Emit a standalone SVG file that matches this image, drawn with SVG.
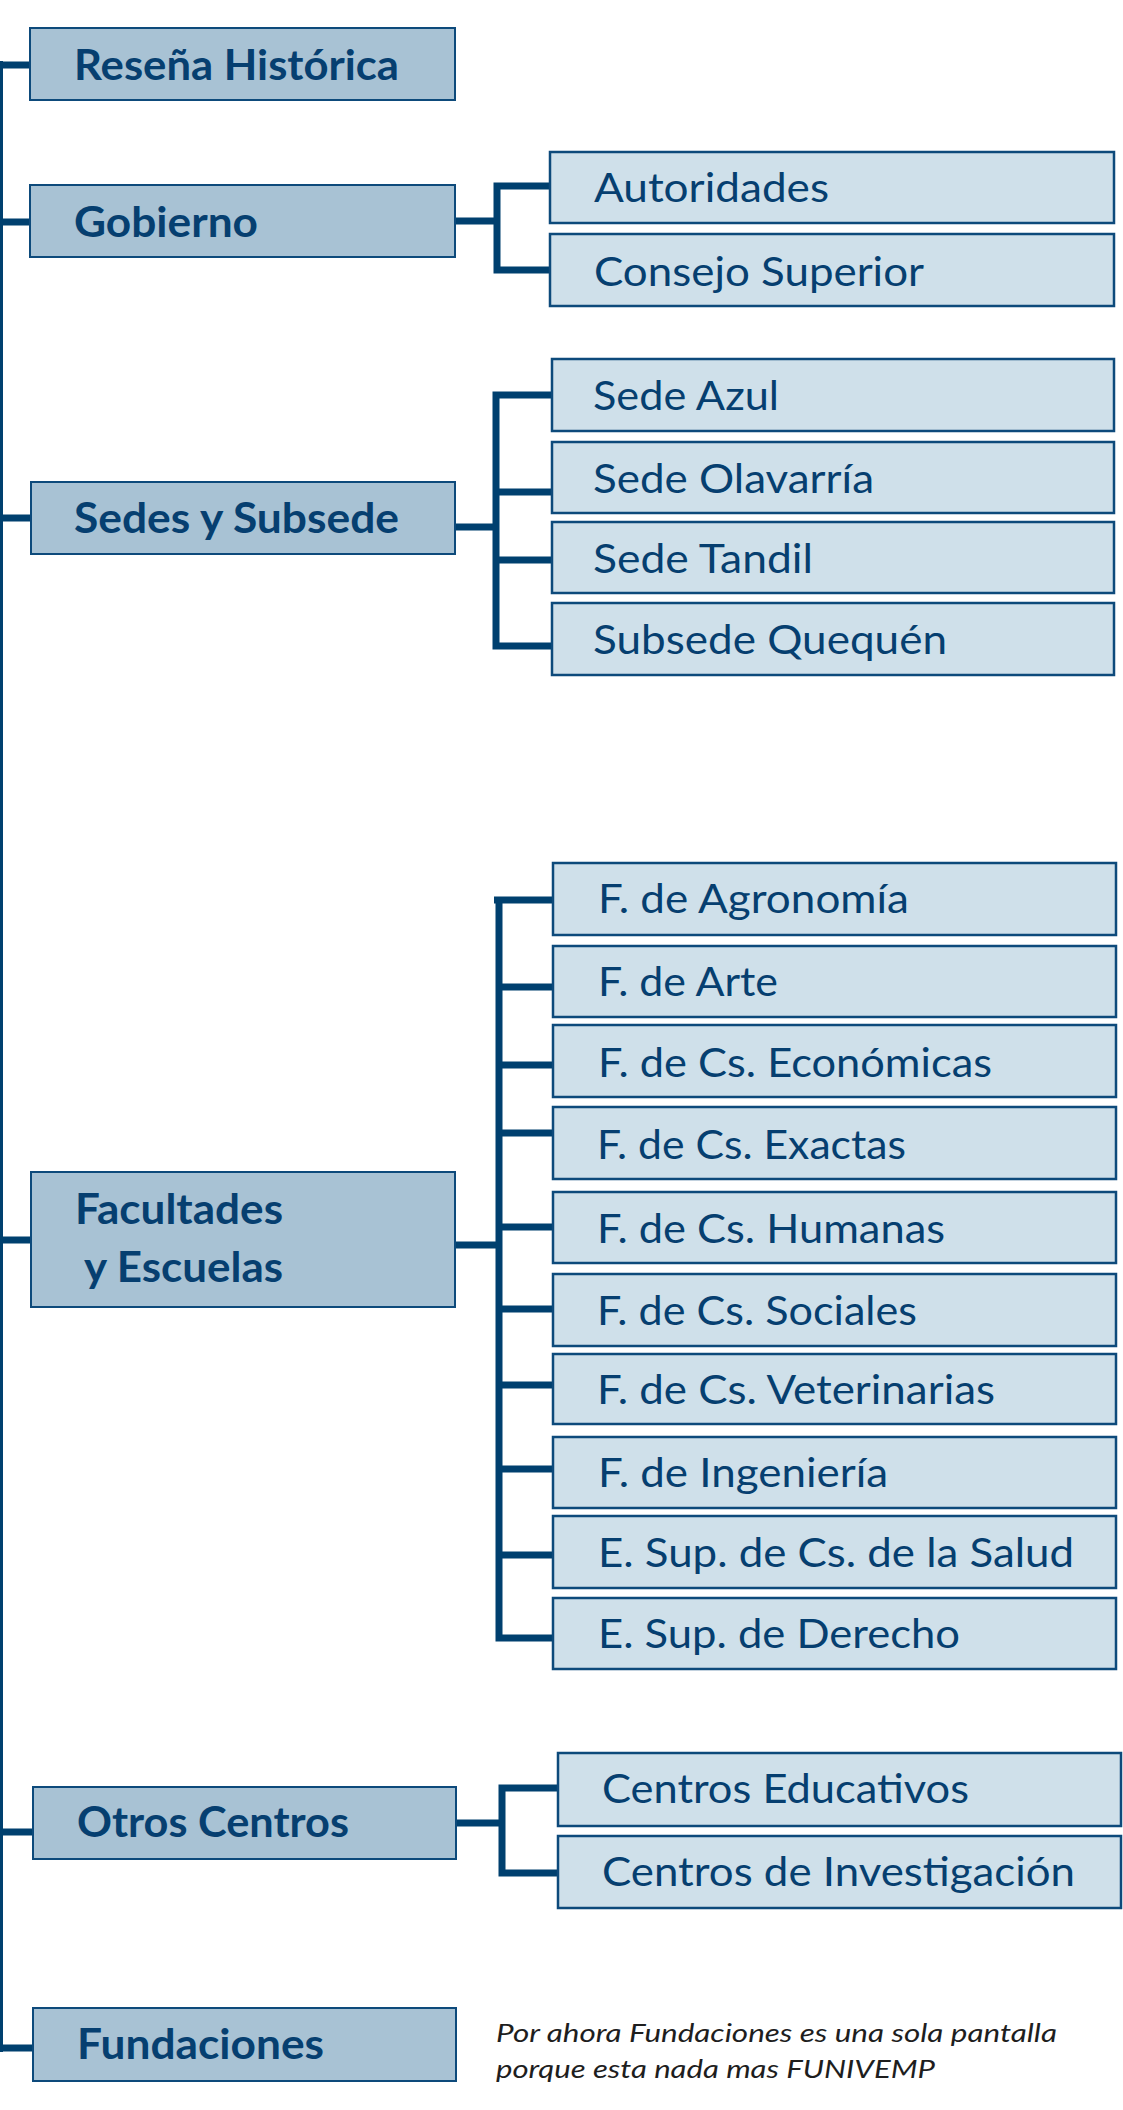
<svg xmlns="http://www.w3.org/2000/svg" width="1123" height="2110" viewBox="0 0 1123 2110">
<style>
.l1{fill:#a8c2d4;stroke:#0d4a7b;stroke-width:2}
.l2{fill:#cfe0ea;stroke:#0d4a7b;stroke-width:2.5}
.t1{font-family:Lato,'Open Sans',sans-serif;font-weight:bold;font-size:42px;fill:#063f70}
.t2{font-family:Lato,'Open Sans',sans-serif;font-weight:normal;font-size:41px;fill:#063f70}
.note{font-family:Lato,'Open Sans',sans-serif;font-style:italic;font-size:25px;fill:#1e1e1e}
.c{stroke:#00406f;stroke-width:7;fill:none;stroke-linecap:butt}
.trunk{stroke:#00406f;stroke-width:3;fill:none}
</style>
<rect width="1123" height="2110" fill="#ffffff"/>
<g id="connectors">
<path class="trunk" d="M1.5 61 V2052"/>
<path class="c" d="M0 65 H30 M0 222 H30 M0 518 H31 M0 1240 H31 M0 1832 H33 M0 2048 H33"/>
<path class="c" d="M455 221 H497 M497 182.5 V273.5 M493.5 186 H550 M493.5 270 H550"/>
<path class="c" d="M455 527 H496 M496 391.5 V649.5 M492.5 395 H552 M496 492 H552 M496 560 H552 M492.5 646 H552"/>
<path class="c" d="M454 1245 H499 M499 896.5 V1641.5 M494 900 H553 M499 987 H553 M499 1065 H553 M499 1133 H553 M499 1227 H553 M499 1309 H553 M499 1385 H553 M499 1469 H553 M499 1555 H553 M495.5 1638 H553"/>
<path class="c" d="M456 1823 H502 M502 1784.5 V1876.5 M498.5 1788 H558 M498.5 1873 H558"/>
</g>
<g id="resena"><rect class="l1" x="30" y="28" width="425" height="72"/><text class="t1" x="74" y="80" textLength="325" lengthAdjust="spacingAndGlyphs">Reseña Histórica</text></g>
<g id="gobierno"><rect class="l1" x="30" y="185" width="425" height="72"/><text class="t1" x="74" y="237" textLength="184" lengthAdjust="spacingAndGlyphs">Gobierno</text></g>
<g id="sedes"><rect class="l1" x="31" y="482" width="424" height="72"/><text class="t1" x="74" y="533" textLength="325" lengthAdjust="spacingAndGlyphs">Sedes y Subsede</text></g>
<g id="facultades"><rect class="l1" x="31" y="1172" width="424" height="135"/><text class="t1" x="75" y="1224" textLength="208" lengthAdjust="spacingAndGlyphs">Facultades</text><text class="t1" x="84" y="1282" textLength="199" lengthAdjust="spacingAndGlyphs">y Escuelas</text></g>
<g id="otros"><rect class="l1" x="33" y="1787" width="423" height="72"/><text class="t1" x="77" y="1837" textLength="272" lengthAdjust="spacingAndGlyphs">Otros Centros</text></g>
<g id="fundaciones"><rect class="l1" x="33" y="2008" width="423" height="73"/><text class="t1" x="77" y="2059" textLength="247" lengthAdjust="spacingAndGlyphs">Fundaciones</text></g>
<g id="autoridades"><rect class="l2" x="550" y="152" width="564" height="71"/><text class="t2" x="594" y="202" textLength="235" lengthAdjust="spacingAndGlyphs">Autoridades</text></g>
<g id="consejo"><rect class="l2" x="550" y="234" width="564" height="72"/><text class="t2" x="594" y="286" textLength="330" lengthAdjust="spacingAndGlyphs">Consejo Superior</text></g>
<g id="azul"><rect class="l2" x="552" y="359" width="562" height="72"/><text class="t2" x="593" y="410" textLength="186" lengthAdjust="spacingAndGlyphs">Sede Azul</text></g>
<g id="olavarria"><rect class="l2" x="552" y="442" width="562" height="71"/><text class="t2" x="593" y="493" textLength="281" lengthAdjust="spacingAndGlyphs">Sede Olavarría</text></g>
<g id="tandil"><rect class="l2" x="552" y="522" width="562" height="71"/><text class="t2" x="593" y="573" textLength="220" lengthAdjust="spacingAndGlyphs">Sede Tandil</text></g>
<g id="quequen"><rect class="l2" x="552" y="603" width="562" height="72"/><text class="t2" x="593" y="654" textLength="354" lengthAdjust="spacingAndGlyphs">Subsede Quequén</text></g>
<g id="agronomia"><rect class="l2" x="553" y="863" width="563" height="72"/><text class="t2" x="598" y="913" textLength="311" lengthAdjust="spacingAndGlyphs">F. de Agronomía</text></g>
<g id="arte"><rect class="l2" x="553" y="946" width="563" height="71"/><text class="t2" x="598" y="996" textLength="180" lengthAdjust="spacingAndGlyphs">F. de Arte</text></g>
<g id="economicas"><rect class="l2" x="553" y="1025" width="563" height="72"/><text class="t2" x="598" y="1077" textLength="394" lengthAdjust="spacingAndGlyphs">F. de Cs. Económicas</text></g>
<g id="exactas"><rect class="l2" x="553" y="1107" width="563" height="72"/><text class="t2" x="597" y="1159" textLength="309" lengthAdjust="spacingAndGlyphs">F. de Cs. Exactas</text></g>
<g id="humanas"><rect class="l2" x="553" y="1192" width="563" height="71"/><text class="t2" x="597" y="1243" textLength="348" lengthAdjust="spacingAndGlyphs">F. de Cs. Humanas</text></g>
<g id="sociales"><rect class="l2" x="553" y="1274" width="563" height="72"/><text class="t2" x="597" y="1325" textLength="320" lengthAdjust="spacingAndGlyphs">F. de Cs. Sociales</text></g>
<g id="veterinarias"><rect class="l2" x="553" y="1354" width="563" height="70"/><text class="t2" x="597" y="1404" textLength="398" lengthAdjust="spacingAndGlyphs">F. de Cs. Veterinarias</text></g>
<g id="ingenieria"><rect class="l2" x="553" y="1437" width="563" height="71"/><text class="t2" x="598" y="1487" textLength="290" lengthAdjust="spacingAndGlyphs">F. de Ingeniería</text></g>
<g id="salud"><rect class="l2" x="553" y="1516" width="563" height="72"/><text class="t2" x="598" y="1567" textLength="476" lengthAdjust="spacingAndGlyphs">E. Sup. de Cs. de la Salud</text></g>
<g id="derecho"><rect class="l2" x="553" y="1598" width="563" height="71"/><text class="t2" x="598" y="1648" textLength="362" lengthAdjust="spacingAndGlyphs">E. Sup. de Derecho</text></g>
<g id="educativos"><rect class="l2" x="558" y="1753" width="563" height="73"/><text class="t2" x="602" y="1803" textLength="367" lengthAdjust="spacingAndGlyphs">Centros Educativos</text></g>
<g id="investigacion"><rect class="l2" x="558" y="1836" width="563" height="72"/><text class="t2" x="602" y="1886" textLength="473" lengthAdjust="spacingAndGlyphs">Centros de Investigación</text></g>
<g id="nota"><text class="note" x="496" y="2042" textLength="561" lengthAdjust="spacingAndGlyphs">Por ahora Fundaciones es una sola pantalla</text><text class="note" x="496" y="2078" textLength="439" lengthAdjust="spacingAndGlyphs">porque esta nada mas FUNIVEMP</text></g>
</svg>
